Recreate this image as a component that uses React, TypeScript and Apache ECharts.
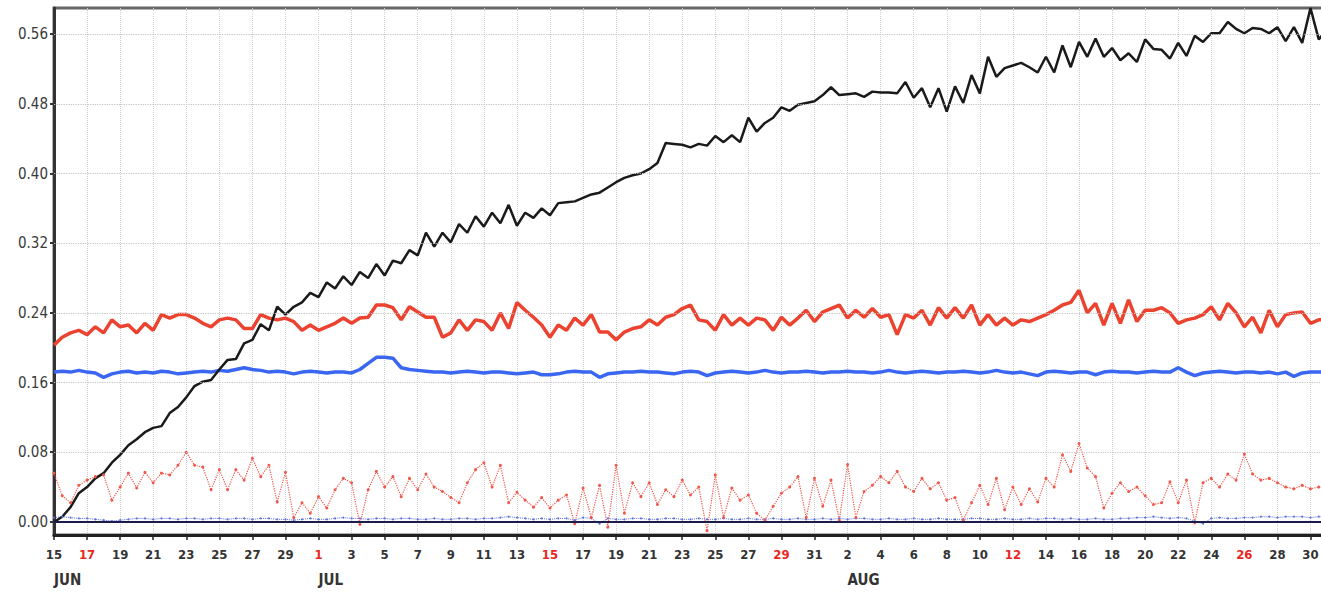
import React, { useEffect, useRef } from "react";
import * as echarts from "echarts";

// 12-hourly samples from 15 Jun 00h to 31 Aug 00h
const BLACK = [
  0.000, 0.006, 0.017, 0.033, 0.040, 0.050, 0.056, 0.068, 0.077, 0.088,
  0.095, 0.103, 0.108, 0.110, 0.125, 0.132, 0.143, 0.156, 0.161, 0.163,
  0.175, 0.186, 0.187, 0.205, 0.209, 0.227, 0.220, 0.247, 0.238, 0.247,
  0.252, 0.263, 0.258, 0.275, 0.268, 0.282, 0.272, 0.287, 0.280, 0.296,
  0.283, 0.300, 0.297, 0.312, 0.306, 0.332, 0.316, 0.332, 0.321, 0.342,
  0.332, 0.351, 0.339, 0.355, 0.343, 0.364, 0.340, 0.355, 0.349, 0.360,
  0.352, 0.366, 0.367, 0.368, 0.372, 0.376, 0.378, 0.384, 0.390, 0.395,
  0.398, 0.400, 0.405, 0.412, 0.435, 0.434, 0.433, 0.430, 0.434, 0.432,
  0.443, 0.436, 0.444, 0.436, 0.464, 0.448, 0.458, 0.464, 0.476, 0.472,
  0.479, 0.481, 0.483, 0.490, 0.499, 0.490, 0.491, 0.492, 0.488, 0.494,
  0.493, 0.493, 0.492, 0.505, 0.487, 0.498, 0.476, 0.498, 0.471, 0.500,
  0.481, 0.513, 0.492, 0.534, 0.511, 0.521, 0.524, 0.527, 0.522, 0.516,
  0.534, 0.516, 0.547, 0.522, 0.551, 0.534, 0.555, 0.534, 0.544, 0.530,
  0.538, 0.528, 0.554, 0.543, 0.542, 0.532, 0.550, 0.535, 0.558, 0.551,
  0.561, 0.561, 0.574, 0.566, 0.561, 0.567, 0.566, 0.561, 0.568, 0.552,
  0.568, 0.550, 0.590, 0.554, 0.565,
];

const RED_SOLID = [
  0.203, 0.212, 0.217, 0.220, 0.215, 0.224, 0.217, 0.232, 0.224, 0.226,
  0.217, 0.228, 0.220, 0.238, 0.234, 0.238, 0.238, 0.234, 0.228, 0.224,
  0.232, 0.234, 0.232, 0.222, 0.222, 0.238, 0.234, 0.232, 0.234, 0.230,
  0.220, 0.226, 0.220, 0.224, 0.228, 0.234, 0.228, 0.234, 0.235, 0.249,
  0.249, 0.246, 0.232, 0.247, 0.241, 0.235, 0.235, 0.212, 0.217, 0.232,
  0.220, 0.232, 0.230, 0.220, 0.240, 0.222, 0.252, 0.243, 0.235, 0.226,
  0.212, 0.226, 0.220, 0.234, 0.226, 0.238, 0.218, 0.218, 0.209, 0.218,
  0.222, 0.224, 0.232, 0.226, 0.235, 0.238, 0.245, 0.249, 0.232, 0.230,
  0.220, 0.238, 0.226, 0.234, 0.226, 0.234, 0.232, 0.220, 0.235, 0.226,
  0.234, 0.243, 0.230, 0.241, 0.245, 0.249, 0.234, 0.243, 0.235, 0.245,
  0.235, 0.238, 0.215, 0.238, 0.234, 0.243, 0.226, 0.246, 0.234, 0.246,
  0.234, 0.249, 0.226, 0.238, 0.226, 0.234, 0.226, 0.232, 0.230, 0.234,
  0.238, 0.243, 0.249, 0.252, 0.266, 0.240, 0.251, 0.226, 0.251, 0.228,
  0.255, 0.230, 0.243, 0.243, 0.246, 0.240, 0.228, 0.232, 0.234, 0.238,
  0.247, 0.232, 0.251, 0.240, 0.224, 0.235, 0.217, 0.243, 0.224, 0.238,
  0.240, 0.241, 0.228, 0.232, 0.232,
];

const BLUE_SOLID = [
  0.172, 0.173, 0.172, 0.174, 0.172, 0.171, 0.166, 0.170, 0.172, 0.173,
  0.171, 0.172, 0.171, 0.173, 0.172, 0.170, 0.171, 0.172, 0.173, 0.172,
  0.174, 0.173, 0.175, 0.177, 0.175, 0.174, 0.172, 0.173, 0.172, 0.170,
  0.172, 0.173, 0.172, 0.171, 0.172, 0.172, 0.171, 0.175, 0.182, 0.189,
  0.189, 0.188, 0.177, 0.175, 0.174, 0.173, 0.172, 0.172, 0.171, 0.172,
  0.173, 0.172, 0.171, 0.172, 0.172, 0.171, 0.170, 0.171, 0.172, 0.169,
  0.169, 0.170, 0.172, 0.173, 0.172, 0.172, 0.166, 0.170, 0.171, 0.172,
  0.172, 0.173, 0.172, 0.172, 0.171, 0.170, 0.172, 0.173, 0.172, 0.168,
  0.171, 0.172, 0.173, 0.172, 0.171, 0.172, 0.174, 0.172, 0.171, 0.172,
  0.172, 0.173, 0.172, 0.171, 0.172, 0.172, 0.173, 0.172, 0.172, 0.171,
  0.172, 0.174, 0.172, 0.171, 0.172, 0.173, 0.172, 0.171, 0.172, 0.172,
  0.173, 0.172, 0.171, 0.172, 0.174, 0.172, 0.171, 0.172, 0.170, 0.168,
  0.172, 0.173, 0.172, 0.171, 0.172, 0.172, 0.169, 0.172, 0.173, 0.172,
  0.172, 0.171, 0.172, 0.173, 0.172, 0.172, 0.177, 0.172, 0.168, 0.171,
  0.172, 0.173, 0.172, 0.171, 0.172, 0.172, 0.171, 0.172, 0.170, 0.172,
  0.167, 0.171, 0.172, 0.172, 0.172,
];

const RED_DOTTED = [
  0.056, 0.030, 0.022, 0.042, 0.048, 0.052, 0.054, 0.025, 0.040, 0.056,
  0.039, 0.057, 0.045, 0.056, 0.054, 0.065, 0.080, 0.065, 0.063, 0.037,
  0.060, 0.037, 0.060, 0.048, 0.073, 0.052, 0.065, 0.023, 0.057, 0.005,
  0.022, 0.010, 0.029, 0.016, 0.037, 0.050, 0.045, -0.003, 0.037, 0.058,
  0.040, 0.052, 0.029, 0.050, 0.037, 0.055, 0.040, 0.035, 0.028, 0.022,
  0.045, 0.060, 0.068, 0.040, 0.065, 0.022, 0.034, 0.025, 0.017, 0.028,
  0.016, 0.025, 0.031, -0.002, 0.039, 0.005, 0.042, -0.006, 0.065, 0.010,
  0.045, 0.029, 0.045, 0.020, 0.037, 0.029, 0.048, 0.031, 0.040, -0.010,
  0.054, 0.005, 0.039, 0.025, 0.031, 0.010, 0.002, 0.018, 0.033, 0.040,
  0.052, 0.005, 0.050, 0.018, 0.048, 0.002, 0.066, 0.005, 0.035, 0.042,
  0.052, 0.045, 0.058, 0.040, 0.035, 0.050, 0.038, 0.045, 0.025, 0.028,
  0.002, 0.022, 0.042, 0.020, 0.050, 0.014, 0.040, 0.020, 0.038, 0.023,
  0.050, 0.040, 0.077, 0.058, 0.090, 0.062, 0.052, 0.016, 0.033, 0.045,
  0.035, 0.040, 0.030, 0.020, 0.022, 0.046, 0.022, 0.048, -0.001, 0.045,
  0.050, 0.040, 0.055, 0.048, 0.078, 0.055, 0.048, 0.050, 0.045, 0.040,
  0.038, 0.042, 0.038, 0.040, 0.040,
];

const BLUE_DOTTED = [
  0.005, 0.006, 0.005, 0.004, 0.004, 0.003, 0.002, 0.001, 0.002, 0.003,
  0.004, 0.004, 0.003, 0.004, 0.004, 0.003, 0.004, 0.004, 0.003, 0.004,
  0.004, 0.003, 0.004, 0.004, 0.003, 0.004, 0.004, 0.003, 0.003, 0.002,
  0.003, 0.004, 0.003, 0.003, 0.004, 0.005, 0.004, 0.004, 0.003, 0.004,
  0.004, 0.003, 0.004, 0.004, 0.003, 0.003, 0.004, 0.003, 0.003, 0.004,
  0.004, 0.003, 0.004, 0.004, 0.005, 0.006, 0.005, 0.004, 0.003, 0.004,
  0.003, 0.004, 0.004, 0.002, 0.005, 0.004, -0.002, 0.004, 0.003, 0.003,
  0.004, 0.004, 0.003, 0.003, 0.004, 0.004, 0.003, 0.003, 0.004, 0.003,
  0.003, 0.004, 0.003, 0.003, 0.004, 0.003, 0.003, 0.004, 0.003, 0.003,
  0.004, 0.003, 0.003, 0.004, 0.003, 0.004, 0.003, 0.004, 0.004, 0.003,
  0.003, 0.004, 0.003, 0.003, 0.004, 0.003, 0.003, 0.004, 0.003, 0.003,
  0.003, 0.004, 0.004, 0.003, 0.003, 0.004, 0.003, 0.003, 0.004, 0.003,
  0.004, 0.004, 0.003, 0.004, 0.003, 0.003, 0.004, 0.003, 0.003, 0.004,
  0.004, 0.005, 0.005, 0.006, 0.005, 0.004, 0.005, 0.004, 0.001, -0.002,
  0.004, 0.005, 0.004, 0.004, 0.005, 0.005, 0.006, 0.006, 0.005, 0.006,
  0.006, 0.006, 0.005, 0.006, 0.006,
];

const Y_TICKS = [0, 0.08, 0.16, 0.24, 0.32, 0.4, 0.48, 0.56];
const RED_DAYS = ["06-17", "07-01", "07-15", "07-29", "08-12", "08-26"];
const MONTH_LABEL_AT = ["06-15 00h", "07-01 00h", "08-02 00h"];
const MONTH_NAMES = ["JAN", "FEB", "MAR", "APR", "MAY", "JUN", "JUL", "AUG", "SEP", "OCT", "NOV", "DEC"];

const START = Date.UTC(2012, 5, 15);
const pad = (n: number) => (n < 10 ? "0" + n : "" + n);
const CATEGORIES = BLACK.map((_, i) => {
  const d = new Date(START + i * 12 * 3600 * 1000);
  return `${pad(d.getUTCMonth() + 1)}-${pad(d.getUTCDate())} ${i % 2 ? "12" : "00"}h`;
});

const FONT = "'Liberation Sans Narrow', 'DejaVu Sans Condensed', 'Liberation Sans', Arial, sans-serif";

export default function App() {
  const ref = useRef<HTMLDivElement>(null);
  useEffect(() => {
    if (!ref.current) return;
    const chart = echarts.init(ref.current, null, { renderer: "svg" });
    chart.setOption({
      animation: false,
      backgroundColor: "#ffffff",
      grid: {
        left: 54,
        top: 8,
        right: 13,
        bottom: 63,
        show: true,
        borderColor: "#666",
        borderWidth: 3,
        backgroundColor: "transparent",
      },
      xAxis: [
        {
          type: "category",
          data: CATEGORIES,
          boundaryGap: false,
          axisLine: { show: true, onZero: false, lineStyle: { color: "#222", width: 3 } },
          axisTick: { show: true, interval: 3, length: 5, lineStyle: { color: "#222", width: 1.5 } },
          axisLabel: {
            interval: 3,
            margin: 13,
            fontFamily: FONT,
            fontSize: 13,
            fontWeight: "bold",
            formatter: (v: string) => String(parseInt(v.slice(3, 5), 10)),
            color: (v: string) => (RED_DAYS.includes(String(v).slice(0, 5)) ? "#e8281e" : "#333"),
          },
          splitLine: { show: true, interval: 3, lineStyle: { color: "#cfcfcf", type: "dotted", width: 1 } },
        },
        {
          type: "category",
          data: CATEGORIES,
          boundaryGap: false,
          position: "bottom",
          axisLine: { show: false },
          axisTick: { show: false },
          splitLine: { show: false },
          axisLabel: {
            interval: (_i: number, v: string) => MONTH_LABEL_AT.includes(v),
            margin: 37,
            align: "left",
            fontFamily: FONT,
            fontSize: 15,
            fontWeight: "bold",
            color: "#333",
            formatter: (v: string) => MONTH_NAMES[parseInt(v.slice(0, 2), 10) - 1],
          },
        },
      ],
      yAxis: {
        type: "value",
        min: -0.015,
        max: 0.59,
        axisLine: { show: true, lineStyle: { color: "#333", width: 3 } },
        axisTick: { show: true, length: 4, customValues: Y_TICKS, lineStyle: { color: "#333", width: 2 } },
        axisLabel: {
          customValues: Y_TICKS,
          margin: 6,
          fontFamily: FONT,
          fontSize: 15,
          color: "#3a3a3a",
          formatter: (v: number) => v.toFixed(2),
        },
        splitLine: { show: false },
      },
      series: [
        {
          name: "grid",
          type: "line",
          data: [],
          silent: true,
          markLine: {
            silent: true,
            symbol: "none",
            label: { show: false },
            lineStyle: { color: "#c4c4c4", type: "dotted", width: 1.2 },
            data: Y_TICKS.slice(1).map((v) => ({ yAxis: v })),
          },
        },
        {
          name: "zero",
          type: "line",
          data: [],
          silent: true,
          markLine: {
            silent: true,
            symbol: "none",
            label: { show: false },
            lineStyle: { color: "#1c1c4a", type: "solid", width: 2 },
            data: [{ yAxis: 0 }],
          },
        },
        {
          name: "blueDotted",
          type: "line",
          data: BLUE_DOTTED,
          symbol: "circle",
          symbolSize: 2,
          clip: false,
          itemStyle: { color: "#5a6ee0" },
          lineStyle: { color: "#5a6ee0", width: 1, type: "dotted" },
        },
        {
          name: "redDotted",
          type: "line",
          data: RED_DOTTED,
          symbol: "circle",
          symbolSize: 3,
          clip: false,
          itemStyle: { color: "#f0574a" },
          lineStyle: { color: "#f0574a", width: 1.2, type: "dotted" },
        },
        {
          name: "blueSolid",
          type: "line",
          data: BLUE_SOLID,
          symbol: "none",
          lineStyle: { color: "#3a66f2", width: 3.5 },
        },
        {
          name: "redSolid",
          type: "line",
          data: RED_SOLID,
          symbol: "none",
          lineStyle: { color: "#ec4330", width: 3.5 },
        },
        {
          name: "black",
          type: "line",
          data: BLACK,
          symbol: "none",
          lineStyle: { color: "#1a1a1a", width: 2.5 },
        },
      ],
    });
    return () => chart.dispose();
  }, []);
  return (
    <div style={{ position: "fixed", left: 0, top: 0, width: 1321, height: 598, overflow: "hidden", background: "#fff" }}>
      <div ref={ref} style={{ width: 1340, height: 598 }} />
    </div>
  );
}
